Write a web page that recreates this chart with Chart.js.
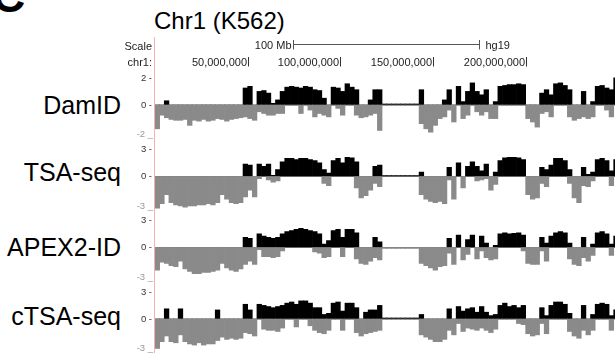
<!DOCTYPE html>
<html>
<head>
<meta charset="utf-8">
<script src="https://cdn.jsdelivr.net/npm/chart.js@4.4.0/dist/chart.umd.min.js"></script>
<style>
  html, body { margin: 0; padding: 0; background: #fff; }
  #wrap { position: relative; width: 615px; height: 353px; overflow: hidden; background: #fff;
          font-family: "Liberation Sans", Arial, Helvetica, sans-serif; }
  .box { position: absolute; left: 0; width: 615px; }
  .lbl { position: absolute; right: 494px; font-size: 25px; line-height: 25px; color: #000; white-space: nowrap; }
  #title { position: absolute; left: 154px; top: 9px; font-size: 24px; line-height: 24px; color: #000; white-space: nowrap; }
  #panel { position: absolute; left: -8px; top: -27px; font-size: 46px; line-height: 46px; font-weight: bold; color: #000; }
</style>
</head>
<body>
<div id="wrap">
  <div id="panel">C</div>
  <div id="title">Chr1 (K562)</div>
  <div class="lbl" style="top:93px">DamID</div>
  <div class="lbl" style="top:160px">TSA-seq</div>
  <div class="lbl" style="top:235px">APEX2-ID</div>
  <div class="lbl" style="top:304px">cTSA-seq</div>
  <div class="box" style="top:0px;height:141px"><canvas id="c1"></canvas></div>
  <div class="box" style="top:141px;height:71px"><canvas id="c2"></canvas></div>
  <div class="box" style="top:212px;height:71px"><canvas id="c3"></canvas></div>
  <div class="box" style="top:283px;height:70px"><canvas id="c4"></canvas></div>
</div>
<script>
// ---- genome coordinates (Mb) ----
const chromLenMb = 249.25;
const viewMaxMb = 248.2;
const binSizeMb = 2.5;
const binCentersMb = Array.from({length: 100}, (_, i) => (i + 0.5) * binSizeMb);
const rulerTicksMb = [50, 100, 150, 200];
const scaleBarMb = 100;

// ---- tick labels per track ----
const damidTicks = [2, 0, -2];
const tsaTicks = [3, 0, -3];
const apexTicks = [3, 0, -3];
const ctsaTicks = [3, 0, -3];

// ---- series values (positive part / negative part of each 2.5 Mb bin) ----
const damidPos = [0,0,0.25,0,0,0,0,0,0,0, 0,0,0,0,0,0,0,0,0,1.0,
  1.1,0,0.8,0.85,0.7,0.1,0.3,0.8,1.05,1.1, 1.05,1.0,1.1,1.05,0.9,0.85,0.4,0,1.05,1.0,
  0.8,1.25,1.05,0.9,0,0,0.3,0.9,0.9,0.06, 0.06,0.06,0.06,0.06,0.06,0.06,0.06,0.9,0,0,
  0,0,0.3,0.9,0,1.1,0.2,0.8,1.3,0.8, 0.6,0.9,0,0.2,1.1,1.15,1.2,1.2,1.25,1.2,
  0,0,0,0.7,0.9,0.6,1.25,1.3,1.15,0.9, 0,0,0.8,0,0.2,1.1,1.15,1.0,0.9,1.6];
const damidNeg = [-1.4,-0.6,-0.75,-0.85,-0.9,-0.9,-0.85,-1.2,-0.9,-0.95, -0.85,-0.95,-0.9,-0.8,-0.85,-0.95,-0.85,-0.8,-0.75,-0.7,
  -0.8,-0.9,-0.4,-0.5,-0.6,-0.6,-0.5,-0.5,0,0, 0,-0.5,0,-0.3,-0.7,-0.5,-0.6,-0.7,0,-0.2,
  -0.6,0,0,-0.6,-0.75,-0.7,-0.6,-0.5,-1.5,0, 0,0,0,0,0,0,0,-1.1,-1.4,-1.6,
  -1.2,-0.8,-0.7,-0.3,-1.0,0,-0.8,-0.6,0,-0.4, -0.6,-0.4,-0.8,-0.8,0,0,0,0,0,0,
  -0.8,-1.0,-1.3,-0.5,-0.4,-0.7,0,0,0,-0.7, -0.9,-0.8,-0.7,-0.8,-0.7,0,0,-0.3,-0.7,0];

const tsaPos = [0,0,0,0,0,0,0,0,0,0, 0,0,0,0,0,0,0,0,0,1.1,
  1.0,0,1.1,0.9,1.1,0.1,0.6,1.3,1.6,1.6, 1.5,1.6,1.6,1.5,1.4,1.2,0.6,0.3,1.4,1.6,
  1.2,1.7,1.65,1.3,0,0,0,0.9,1.0,0.09, 0.09,0.09,0.09,0.09,0.09,0.09,0.09,0.4,0,0,
  0,0,0,0.8,0,1.2,0,0.9,1.3,0.9, 0.5,1.1,0,0.4,1.4,1.65,1.7,1.7,1.65,1.5,
  0,0,0,0.8,0.6,1.0,1.6,1.6,1.4,0.6, 0,0,0.8,0.2,0.4,1.5,1.6,1.4,0.5,1.5];
const tsaNeg = [-2.8,-2.4,-1.6,-2.3,-2.5,-2.6,-2.7,-2.6,-2.6,-2.5, -2.5,-2.4,-2.5,-2.3,-1.6,-2.0,-2.3,-2.4,-2.3,-1.8,
  -1.2,-1.8,-0.2,0,-0.3,-0.5,-0.4,0,0,0, 0,0,0,0,0,0,-0.6,-0.8,0,0,
  0,0,0,-1.0,-1.9,-1.7,-1.2,-0.6,-0.9,0, 0,0,0,0,0,0,0,-1.6,-2.0,-2.2,
  -2.3,-2.2,-2.4,-0.3,-2.0,0,-1.0,0,0,-0.4, -0.3,-0.2,-1.2,-0.7,0,0,0,0,0,0,
  -1.6,-2.0,-1.9,-0.6,-0.9,0,0,0,0,-0.6, -1.9,-2.3,-0.8,-0.9,-0.4,0,0,0,-0.8,0];

const apexPos = [0,0,0,0,0,0,0,0,0,0, 0,0,0,0,0,0,0,0,0,0.9,
  0.8,0,1.2,1.0,0.9,0.8,0.9,1.2,1.4,1.5, 1.6,1.7,1.6,1.5,1.4,1.2,0.3,0.6,1.5,1.6,
  0.9,1.6,1.6,1.3,0,0,0,0.9,0.5,0, 0,0,0,0,0,0,0,0,0,0,
  0,0,0,0.8,0,1.1,0,0.7,1.1,0, 1.0,0.4,0,0.2,1.2,1.3,1.2,1.25,1.3,1.1,
  0,0,0,0.9,0.4,1.0,1.3,1.4,1.3,0.4, 0,0,0.9,0,0.3,1.3,1.4,1.2,0.3,1.0];
const apexNeg = [-2.0,-1.3,-1.4,-1.6,-1.7,-1.2,-1.9,-2.1,-2.3,-2.3, -2.2,-2.2,-2.1,-2.0,-1.4,-1.8,-2.0,-2.1,-1.9,-1.5,
  -1.2,-1.5,-0.2,-0.8,-0.8,-0.9,-0.8,-0.3,0,0, 0,0,0,0,-0.4,-0.5,-0.9,-0.8,0,0,
  -0.8,0,0,-1.0,-1.4,-1.5,-1.2,-0.9,-1.1,-0.09, -0.09,-0.09,-0.09,-0.09,-0.09,-0.09,-0.09,-1.4,-1.6,-1.8,
  -2.0,-1.7,-1.6,-0.5,-1.5,0,-1.1,-0.6,0,-1.0, -0.3,-0.9,-1.1,-1.0,0,0,0,0,0,-0.3,
  -1.4,-1.5,-1.5,-0.3,-1.2,0,0,0,0,-1.0, -1.5,-1.6,-0.9,-1.2,-0.7,0,0,0,-0.7,0];

const ctsaPos = [0,0,0.9,0,0,0.9,0,0,0,0, 0,0,0,0.8,0,0,0,0,0,1.3,
  0.8,0,1.3,1.2,1.1,1.0,1.1,1.2,1.4,1.5, 1.3,1.6,1.6,1.4,1.0,1.0,0.4,0.5,1.4,1.5,
  0.7,1.4,1.4,1.0,0,0.6,0.8,0.8,1.2,0.09, 0.09,0.09,0.09,0.09,0.09,0.09,0.09,0.4,0,0,
  0,0,0,0.9,0,1.1,0.7,0.9,1.0,0.6, 1.1,0.6,0.3,0.4,1.2,1.4,1.1,1.2,1.0,1.2,
  0,0,0,1.0,0.3,1.2,1.5,1.5,1.3,0.5, 0,0,1.2,0,0.4,1.3,1.4,1.3,0.3,0.8];
const ctsaNeg = [-2.6,-2.0,-1.5,-2.0,-2.1,-1.4,-2.0,-2.2,-2.3,-2.1, -2.3,-2.2,-2.2,-1.9,-1.6,-1.8,-1.7,-1.8,-1.7,-1.2,
  -1.3,-1.5,0,-0.9,-1.0,-1.0,-1.1,-0.8,0,0, -0.7,0,0,-0.6,-1.0,-1.2,-1.3,-1.0,0,0,
  -1.0,0,0,-1.2,-1.5,-1.3,-1.2,-1.1,-1.0,0, 0,0,0,0,0,0,0,-1.4,-1.6,-1.8,
  -2.0,-2.0,-1.8,-1.0,-1.4,-0.4,-1.1,-0.8,-0.9,-1.0, -0.8,-1.0,-1.2,-0.9,0,0,0,0,-0.4,-0.5,
  -1.3,-1.5,-1.4,-0.4,-1.3,0,0,0,0,-1.1, -1.5,-1.7,-1.0,-1.4,-1.0,0,0,0,-1.0,0];

// ---- styles ----
const posColor = '#000000';
const negColor = '#8a8a8a';
const pinkLine = '#f6b0b0';
const smallFont = '11px "Liberation Sans", Arial, sans-serif';
const tickFont = '9.5px "Liberation Sans", Arial, sans-serif';

const trackDecor = {
  id: 'trackDecor',
  afterDraw(chart, args, o) {
    const { ctx, chartArea: a, scales: { x, y } } = chart;
    ctx.save();
    // left guide line
    ctx.strokeStyle = pinkLine; ctx.lineWidth = 1;
    ctx.beginPath(); ctx.moveTo(a.left - 0.5, o.lineTop); ctx.lineTo(a.left - 0.5, chart.height); ctx.stroke();
    // value labels
    ctx.font = tickFont; ctx.textAlign = 'right';
    const [tTop, tZero, tBot] = o.ticks;
    ctx.fillStyle = '#333';
    ctx.textBaseline = 'middle';
    ctx.fillText(tTop + ' -', a.left - 3, y.getPixelForValue(tTop) + 7);
    ctx.fillText(tZero + ' -', a.left - 3, y.getPixelForValue(tZero));
    ctx.fillStyle = '#999';
    ctx.textBaseline = 'alphabetic';
    ctx.fillText(tBot + ' _', a.left - 2, y.getPixelForValue(tBot) - 2);
    // ruler
    if (o.ruler) {
      ctx.font = smallFont; ctx.fillStyle = '#222'; ctx.strokeStyle = '#333';
      ctx.textAlign = 'right'; ctx.textBaseline = 'alphabetic';
      ctx.fillText('Scale', 152, 50);
      ctx.fillText('chr1:', 152, 65.5);
      rulerTicksMb.forEach(mb => {
        const px = Math.round(x.getPixelForValue(mb)) + 0.5;
        ctx.beginPath(); ctx.moveTo(px, 57); ctx.lineTo(px, 66.5); ctx.stroke();
        ctx.fillText((mb * 1e6).toLocaleString('en-US'), px - 1.5, 65.5);
      });
      const mid = chromLenMb / 2;
      const x1 = Math.round(x.getPixelForValue(mid - scaleBarMb / 2)) + 0.5;
      const x2 = Math.round(x.getPixelForValue(mid + scaleBarMb / 2)) + 0.5;
      ctx.beginPath();
      ctx.moveTo(x1, 40); ctx.lineTo(x1, 49.5);
      ctx.moveTo(x2, 40); ctx.lineTo(x2, 49.5);
      ctx.moveTo(x1, 44.5); ctx.lineTo(x2, 44.5);
      ctx.strokeStyle = '#555'; ctx.stroke();
      ctx.fillText(scaleBarMb + ' Mb', x1 - 2, 49);
      ctx.textAlign = 'left';
      ctx.fillText('hg19', x2 + 6, 49);
    }
    ctx.restore();
  }
};

function makeTrack(id, pos, neg, ticks, padTop, padBottom, lineTop, ruler) {
  const mk = (vals, color) => ({
    data: binCentersMb.map((b, i) => ({ x: b, y: vals[i] })),
    backgroundColor: color, borderWidth: 0, grouped: false,
    barPercentage: 1, categoryPercentage: 1
  });
  return new Chart(document.getElementById(id), {
    type: 'bar',
    data: { datasets: [mk(neg, negColor), mk(pos, posColor)] },
    options: {
      responsive: true, maintainAspectRatio: false, animation: false, devicePixelRatio: 1,
      layout: { padding: { left: 155, right: 0, top: padTop, bottom: padBottom } },
      plugins: { legend: { display: false }, tooltip: { enabled: false },
                 trackDecor: { ticks, lineTop, ruler } },
      scales: {
        x: { type: 'linear', min: 0, max: viewMaxMb, display: false, offset: false },
        y: { min: ticks[2], max: ticks[0], display: false }
      }
    },
    plugins: [trackDecor]
  });
}

makeTrack('c1', damidPos, damidNeg, damidTicks, 71, 2, 37, true);
makeTrack('c2', tsaPos, tsaNeg, tsaTicks, 1.5, 1.5, 0, false);
makeTrack('c3', apexPos, apexNeg, apexTicks, 1.5, 1.5, 0, false);
makeTrack('c4', ctsaPos, ctsaNeg, ctsaTicks, 2, 0, 0, false);
</script>
</body>
</html>
